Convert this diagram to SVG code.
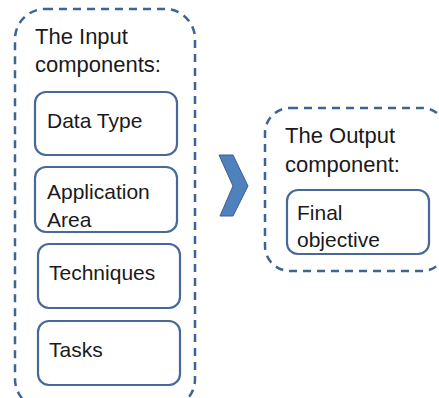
<svg xmlns="http://www.w3.org/2000/svg" width="439" height="398" viewBox="0 0 439 398">
<style>
.group{fill:none;stroke:#3c6494;stroke-width:2.5;stroke-dasharray:8 6}
.box{fill:#fff;stroke:#46699a;stroke-width:2.2}
text{font-family:"Liberation Sans",Arial,sans-serif;font-size:22px;fill:#1a1a1a}
.s{font-size:21px}
</style>
<rect width="439" height="398" fill="#fff"/>
<g id="input-components">
<rect class="group" x="15" y="9" width="180" height="400" rx="30" ry="30"/>
<text x="35" y="44">The Input</text>
<text x="35" y="72">components:</text>
</g>
<g id="data-type">
<rect class="box" x="35" y="92" width="142" height="63" rx="11" ry="11"/>
<text class="s" x="47" y="128">Data Type</text>
</g>
<g id="application-area">
<rect class="box" x="35" y="167" width="142" height="65" rx="11" ry="11"/>
<text class="s" x="47" y="199">Application</text>
<text class="s" x="47" y="227">Area</text>
</g>
<g id="techniques">
<rect class="box" x="38" y="244" width="142" height="64" rx="11" ry="11"/>
<text class="s" x="49" y="280">Techniques</text>
</g>
<g id="tasks">
<rect class="box" x="38" y="321" width="142" height="64" rx="11" ry="11"/>
<text class="s" x="49" y="357">Tasks</text>
</g>
<g id="connectors">
<polygon points="219,155 233,155 248,186 233,216 220,216 233,186" fill="#4f81bd" stroke="#3a5f8e" stroke-width="1"/>
</g>
<g id="output-component">
<rect class="group" x="265" y="108" width="182" height="163" rx="25" ry="25"/>
<text x="285" y="143">The Output</text>
<text x="285" y="172">component:</text>
</g>
<g id="final-objective">
<rect class="box" x="287" y="190" width="142" height="64" rx="11" ry="11"/>
<text class="s" x="297" y="220">Final</text>
<text class="s" x="297" y="247">objective</text>
</g>
</svg>
